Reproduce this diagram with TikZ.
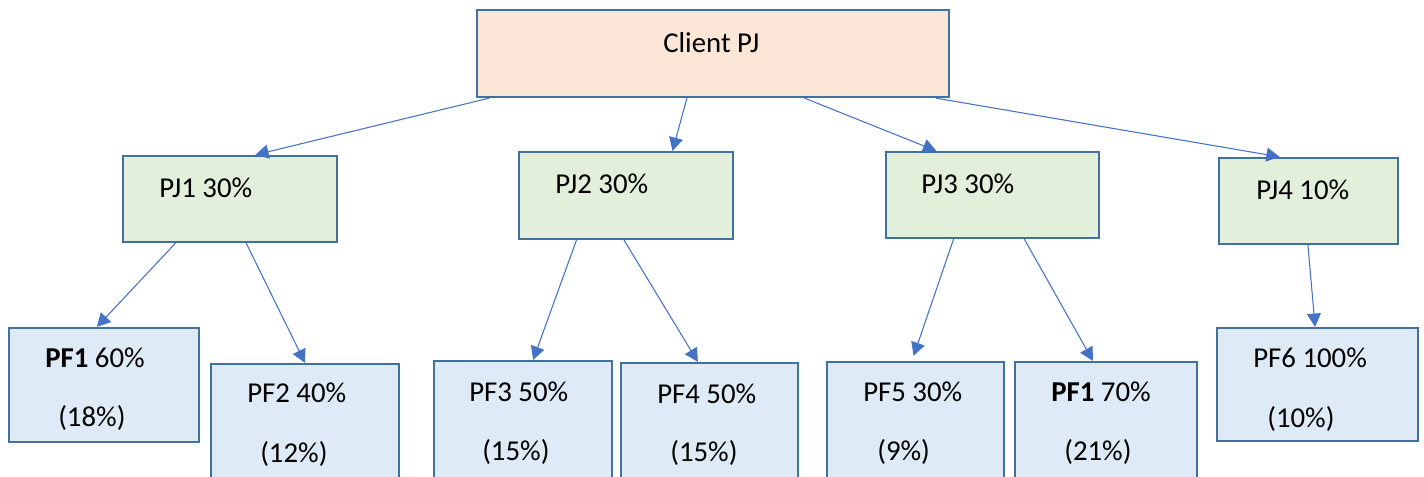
\documentclass[tikz,border=0pt]{standalone}
\usepackage{fontspec}
\setmainfont{Carlito}
\usetikzlibrary{arrows.meta,calc,fit}

\definecolor{edgeblue}{HTML}{41719C}
\definecolor{arrowblue}{HTML}{4472C4}
\definecolor{rootfill}{HTML}{FBE5D6}
\definecolor{pjfill}{HTML}{E2EFDA}
\definecolor{pffill}{HTML}{DEEBF7}

\tikzset{
  basebox/.style={draw=edgeblue, line width=1.7pt, inner sep=0pt, rectangle},
  rootbox/.style={basebox, fill=rootfill},
  pjbox/.style={basebox, fill=pjfill},
  pfbox/.style={basebox, fill=pffill},
  lbl/.style={anchor=base west, inner sep=0pt, font=\fontsize{21.6}{26}\selectfont},
  link/.style={draw=arrowblue, line width=0.8pt,
    -{Triangle[length=10pt,width=10.5pt]}},
}

% connector from a point on the parent's bottom edge to a point on the child's top edge
\newcommand{\linkto}[5][]{%
  \draw[link,#1] ($(#2.south west)!#3!(#2.south east)$) -- ($(#4.north west)!#5!(#4.north east)$);}

\begin{document}
\begin{tikzpicture}[x=0.75pt,y=-0.75pt]
\useasboundingbox (0,0) rectangle (1424,476);
\clip (0,0) rectangle (1424,476);

% boxes
\node[rootbox, fit={(477,10) (949,97)}] (root) {};
\node[pjbox, fit={(123,156) (337,242)}] (pj1) {};
\node[pjbox, fit={(519,152) (733,239)}] (pj2) {};
\node[pjbox, fit={(886,152) (1099,238)}] (pj3) {};
\node[pjbox, fit={(1219,158) (1398,244)}] (pj4) {};
\node[pfbox, fit={(9,328) (199,442)}] (pf1a) {};
\node[pfbox, fit={(211,364) (399,495)}] (pf2) {};
\node[pfbox, fit={(434,361) (612,495)}] (pf3) {};
\node[pfbox, fit={(621,363) (798,495)}] (pf4) {};
\node[pfbox, fit={(827,362) (1004,495)}] (pf5) {};
\node[pfbox, fit={(1015,362) (1197,495)}] (pf1b) {};
\node[pfbox, fit={(1217,328) (1418,441)}] (pf6) {};

% labels
\node[lbl] (troot) at (663,52) {Client PJ};
\node[lbl] (tpj1) at (159,197) {PJ1 30\%};
\node[lbl] (tpj2) at (555,193) {PJ2 30\%};
\node[lbl] (tpj3) at (921,193) {PJ3 30\%};
\node[lbl] (tpj4) at (1256,199) {PJ4 10\%};
\node[lbl] (tpf1a) at (45,367) {\textbf{PF1} 60\%};
\node[lbl] (spf1a) at (58,426) {(18\%)};
\node[lbl] (tpf2) at (247,402) {PF2 40\%};
\node[lbl] (spf2) at (260,462) {(12\%)};
\node[lbl] (tpf3) at (469,401) {PF3 50\%};
\node[lbl] (spf3) at (482,460) {(15\%)};
\node[lbl] (tpf4) at (657,403) {PF4 50\%};
\node[lbl] (spf4) at (670,461) {(15\%)};
\node[lbl] (tpf5) at (863,401) {PF5 30\%};
\node[lbl] (spf5) at (877,460) {(9\%)};
\node[lbl] (tpf1b) at (1051,401) {\textbf{PF1} 70\%};
\node[lbl] (spf1b) at (1064,460) {(21\%)};
\node[lbl] (tpf6) at (1253,367) {PF6 100\%};
\node[lbl] (spf6) at (1267,427) {(10\%)};

% connectors
\linkto{root}{0.028}{pj1}{0.617}
\linkto{root}{0.445}{pj2}{0.715}
\linkto{root}{0.693}{pj3}{0.239}
\linkto{root}{0.970}{pj4}{0.341}
\linkto{pj1}{0.248}{pf1a}{0.463}
\linkto{pj1}{0.575}{pf2}{0.500}
\linkto{pj2}{0.271}{pf3}{0.556}
\linkto{pj2}{0.491}{pf4}{0.435}
\linkto[shorten >=4pt]{pj3}{0.319}{pf5}{0.480}
\linkto{pj3}{0.648}{pf1b}{0.429}
\linkto{pj4}{0.497}{pf6}{0.488}
\end{tikzpicture}
\end{document}
